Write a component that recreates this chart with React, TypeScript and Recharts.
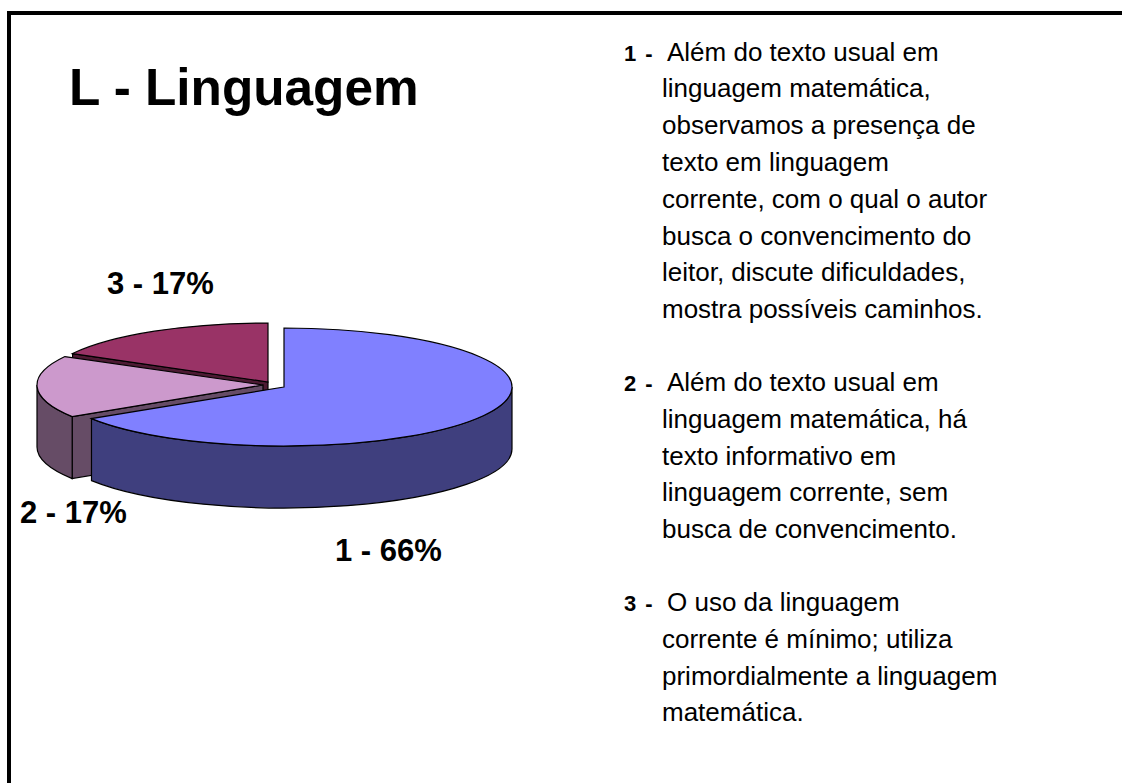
import React from "react";
import { PieChart, Pie, Cell } from "recharts";

const title = "L - Linguagem";
const categories = ["3", "2", "1"];
const shares = [17, 17, 66];

const notes = [
  { key: "1 -", lines: ["Além do texto usual em", "linguagem matemática,", "observamos a presença de", "texto em linguagem", "corrente, com o qual o autor", "busca o convencimento do", "leitor, discute dificuldades,", "mostra possíveis caminhos."] },
  { key: "2 -", lines: ["Além do texto usual em", "linguagem matemática, há", "texto informativo em", "linguagem corrente, sem", "busca de convencimento."] },
  { key: "3 -", lines: ["O uso da linguagem", "corrente é mínimo; utiliza", "primordialmente a linguagem", "matemática."] },
];

const table = categories.map((name, i) => ({ name, value: shares[i] }));

// Styling and layout, separate from the data
const FONT = "'Liberation Sans', Arial, sans-serif";
const RY = 59;
const DEPTH = 62;
const LOOK: Record<string, { top: string; side: string; dx: number; dy: number; shrink: number; lx: number; ly: number }> = {
  "1": { top: "#8080ff", side: "#3f3f7e", dx: 0, dy: 0, shrink: 0, lx: 335, ly: 561 },
  "2": { top: "#cc99cc", side: "#664c66", dx: -21, dy: -2, shrink: 2, lx: 20, ly: 523 },
  "3": { top: "#993366", side: "#4d1a33", dx: -16, dy: -5, shrink: 5, lx: 107, ly: 294 },
};
const NOTE_TOPS = [60.5, 391, 611];
const LINE_STEP = 36.8;

const Slice3D = (props: any) => {
  const { cx, cy, outerRadius, startAngle, endAngle, payload } = props;
  const look = LOOK[payload?.name ?? props.name];
  const a1 = Math.min(startAngle, endAngle);
  const a2 = Math.max(startAngle, endAngle);
  const rx = outerRadius - look.shrink;
  const ry = RY;
  const ox = cx + look.dx;
  const oy = cy + look.dy;
  const pt = (deg: number, down = 0) => {
    const r = (deg * Math.PI) / 180;
    return [ox + rx * Math.cos(r), oy - ry * Math.sin(r) + down];
  };
  const arc = (from: number, to: number, down: number, move: string) => {
    const [x1, y1] = pt(from, down);
    const [x2, y2] = pt(to, down);
    const large = Math.abs(to - from) > 180 ? 1 : 0;
    const sweep = to > from ? 0 : 1;
    return `${move} ${x1} ${y1} A ${rx} ${ry} 0 ${large} ${sweep} ${x2} ${y2}`;
  };
  const w1 = Math.max(a1, 180);
  const w2 = Math.min(a2, 360);
  const [rimX, rimY] = pt(a2);
  return (
    <g>
      {a2 < 270 && (
        <path
          d={`M ${ox} ${oy} L ${rimX} ${rimY} L ${rimX} ${rimY + DEPTH} L ${ox} ${oy + DEPTH} Z`}
          fill={look.side}
          stroke="#000"
          strokeWidth={1.2}
        />
      )}
      {w2 > w1 && (
        <path
          d={`${arc(w1, w2, 0, "M")} ${arc(w2, w1, DEPTH, "L")} Z`}
          fill={look.side}
          stroke="#000"
          strokeWidth={1.2}
        />
      )}
      <path d={`M ${ox} ${oy} ${arc(a1, a2, 0, "L")} Z`} fill={look.top} stroke="#000" strokeWidth={1.2} />
    </g>
  );
};

const sliceLabel = (props: any) => {
  const look = LOOK[props.name];
  return (
    <text x={look.lx} y={look.ly} fontFamily={FONT} fontWeight="bold" fontSize={31} fill="#000">
      {`${props.name} - ${props.value}%`}
    </text>
  );
};

export default function App() {
  return (
    <div style={{ position: "absolute", left: 0, top: 0, width: 1122, height: 783, background: "#fff", overflow: "hidden" }}>
      <div style={{ position: "absolute", left: 7, top: 11, right: 0, height: 4, background: "#000" }} />
      <div style={{ position: "absolute", left: 7, top: 11, bottom: 0, width: 4, background: "#000" }} />
      <div style={{ position: "absolute", left: 0, top: 0 }}>
        <PieChart width={1122} height={783} margin={{ top: 0, right: 0, bottom: 0, left: 0 }}>
          <Pie
            data={table}
            dataKey="value"
            nameKey="name"
            cx={284}
            cy={387}
            outerRadius={228}
            innerRadius={0}
            startAngle={90}
            endAngle={450}
            paddingAngle={0}
            stroke="#000"
            shape={Slice3D}
            label={sliceLabel}
            labelLine={false}
            isAnimationActive={false}
          >
            {table.map((d) => (
              <Cell key={d.name} fill={LOOK[d.name].top} />
            ))}
          </Pie>
          <text x={69} y={105} fontFamily={FONT} fontWeight="bold" fontSize={51.3} fill="#000">
            {title}
          </text>
          {notes.map((note, n) => (
            <g key={note.key}>
              <text x={624} y={NOTE_TOPS[n]} fontFamily={FONT} fontWeight="bold" fontSize={22} wordSpacing={3} fill="#000">
                {note.key}
              </text>
              {note.lines.map((line, i) => (
                <text key={i} x={i === 0 ? 667 : 662} y={NOTE_TOPS[n] + i * LINE_STEP} fontFamily={FONT} fontSize={26} fill="#000">
                  {line}
                </text>
              ))}
            </g>
          ))}
        </PieChart>
      </div>
    </div>
  );
}
